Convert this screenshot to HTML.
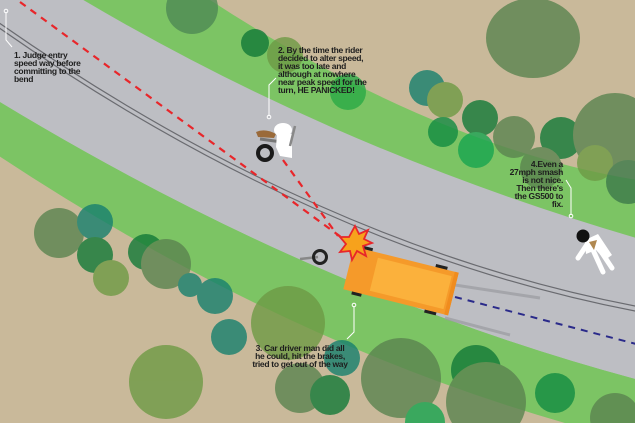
<!DOCTYPE html>
<html><head><meta charset="utf-8"><style>
html,body{margin:0;padding:0;background:#c9b99a;width:635px;height:423px;overflow:hidden;}
svg{display:block}
text{font-family:"Liberation Sans",Arial,sans-serif;font-weight:bold;font-size:8.5px;fill:#1e1e1e;letter-spacing:-0.3px}
</style></head><body>
<svg width="635" height="423" viewBox="0 0 635 423" xmlns="http://www.w3.org/2000/svg">
<rect width="635" height="423" fill="#c9b99a"/>
<!-- green band top -->
<path d="M-10,-40 L180,-20 Q430,150 650,182 L650,500 L-10,500 Z" fill="#7cc464"/>
<!-- road -->
<path d="M-10,-14 L60,-14 Q330,150 650,242 L650,383 Q317,296 -10,96 Z" fill="#bdbec3"/>
<!-- lower green -->
<path d="M-10,96 Q317,296 650,383 L650,445 Q317,368 -10,150 Z" fill="#7cc464"/>
<!-- lower tan -->
<path d="M-10,150 Q317,368 650,445 L650,430 L-10,430 Z" fill="#c9b99a"/>
<!-- trees -->
<g opacity="0.8">
<circle cx="192" cy="8" r="26" fill="#4f8a55"/>
<ellipse cx="533" cy="38" rx="47" ry="40" fill="#5b8450"/>
<circle cx="255" cy="43" r="14" fill="#137a38"/>
<circle cx="285" cy="55" r="18" fill="#6e9a45"/>
<circle cx="348" cy="92" r="18" fill="#2aaa46"/>
<circle cx="427" cy="88" r="18" fill="#17806e"/>
<circle cx="445" cy="100" r="18" fill="#6e9a45"/>
<circle cx="443" cy="132" r="15" fill="#128c42"/>
<circle cx="480" cy="118" r="18" fill="#137a38"/>
<circle cx="476" cy="150" r="18" fill="#17a550"/>
<circle cx="514" cy="137" r="21" fill="#5b8450"/>
<circle cx="561" cy="138" r="21" fill="#137a38"/>
<circle cx="615" cy="135" r="42" fill="#5b8450"/>
<circle cx="595" cy="163" r="18" fill="#6e9a45"/>
<circle cx="628" cy="182" r="22" fill="#3d7a4a"/>
<circle cx="541" cy="168" r="21" fill="#5b8450"/>
<circle cx="59" cy="233" r="25" fill="#5b8450"/>
<circle cx="95" cy="222" r="18" fill="#17806e"/>
<circle cx="95" cy="255" r="18" fill="#137a38"/>
<circle cx="111" cy="278" r="18" fill="#6e9a45"/>
<circle cx="146" cy="252" r="18" fill="#137a38"/>
<circle cx="166" cy="264" r="25" fill="#5b8450"/>
<circle cx="190" cy="285" r="12" fill="#17806e"/>
<circle cx="215" cy="296" r="18" fill="#17806e"/>
<circle cx="229" cy="337" r="18" fill="#17806e"/>
<circle cx="166" cy="382" r="37" fill="#6e9a45"/>
<circle cx="288" cy="323" r="37" fill="#6e9a45"/>
<circle cx="342" cy="358" r="18" fill="#17806e"/>
<circle cx="300" cy="388" r="25" fill="#5b8450"/>
<circle cx="330" cy="395" r="20" fill="#137a38"/>
<circle cx="401" cy="378" r="40" fill="#5b8450"/>
<circle cx="476" cy="370" r="25" fill="#137a38"/>
<circle cx="486" cy="402" r="40" fill="#5b8450"/>
<circle cx="555" cy="393" r="20" fill="#128c42"/>
<circle cx="615" cy="418" r="25" fill="#5b8450"/>
<circle cx="425" cy="422" r="20" fill="#17a550"/>
</g>
<!-- center double line -->
<path d="M-5,20 Q317,246 640,307" fill="none" stroke="#6a6b70" stroke-width="1.2"/>
<path d="M-5,25 Q317,251 640,312" fill="none" stroke="#6a6b70" stroke-width="1.2"/>
<!-- skid marks -->
<path d="M455,285 L540,298" stroke="#9a9ba0" stroke-width="3" opacity="0.7"/>
<path d="M445,318 L510,335" stroke="#9a9ba0" stroke-width="3" opacity="0.7"/>
<!-- dashed paths -->
<path d="M20,2 L345,240" stroke="#e8262a" stroke-width="2.2" stroke-dasharray="7,6" fill="none"/>
<path d="M283,160 L338,236" stroke="#e8262a" stroke-width="2.2" stroke-dasharray="7,6" fill="none"/>
<path d="M455,297 L640,345" stroke="#2a2a8a" stroke-width="2" stroke-dasharray="7,6" fill="none"/>
<!-- car -->
<g transform="translate(401,281) rotate(14)">
<rect x="-45" y="-25" width="10" height="4" fill="#222"/>
<rect x="30" y="-25" width="12" height="4" fill="#222"/>
<rect x="-45" y="21" width="10" height="4" fill="#222"/>
<rect x="30" y="21" width="12" height="4" fill="#222"/>
<rect x="-54" y="-22" width="108" height="44" fill="#f59a2a"/>
<rect x="-28" y="-17" width="76" height="34" fill="#fbb13c"/>
<rect x="50" y="-22" width="4" height="44" fill="#f08c1e"/>
</g>
<!-- starburst -->
<polygon points="355,226 359,234 368,230 364,239 372,243 363,246 366,256 357,251 352,260 350,251 340,252 346,244 340,237 349,237" fill="#f7a21c" stroke="#e8262a" stroke-width="1.8"/>
<!-- detached wheel -->
<line x1="300" y1="259" x2="318" y2="257" stroke="#888" stroke-width="2.5"/>
<circle cx="320" cy="257" r="6.5" fill="none" stroke="#222" stroke-width="3"/>
<!-- bike & rider -->
<path d="M256,132 Q265,128 276,134 L274,138 L258,137 Z" fill="#9a6a3a"/>
<path d="M260,139 L282,142" stroke="#777" stroke-width="3"/>
<ellipse cx="283" cy="130" rx="9" ry="7" fill="#fff"/>
<path d="M277,134 L292,134 L292,158 L280,156 L276,147 Z" fill="#fff"/>
<line x1="295" y1="126" x2="290" y2="146" stroke="#888" stroke-width="2.5"/>
<circle cx="265" cy="153" r="7" fill="none" stroke="#1a1a1a" stroke-width="4"/>
<!-- pedestrian -->
<path d="M585,240 L598,234 L612,255 L605,260 L596,250 L586,254 Z" fill="#fff"/>
<path d="M588,243 L578,258" stroke="#fff" stroke-width="5" stroke-linecap="round"/>
<path d="M600,250 L612,268" stroke="#fff" stroke-width="5" stroke-linecap="round"/>
<path d="M593,250 L603,272" stroke="#fff" stroke-width="5" stroke-linecap="round"/>
<path d="M589,242 L597,240 L594,250 Z" fill="#b08850"/>
<circle cx="583" cy="236" r="6.5" fill="#111"/>
<!-- leaders -->
<g fill="none" stroke="#fff" stroke-width="1">
<path d="M6,12 L6,40 L12,47"/><circle cx="6" cy="11" r="1.8"/>
<path d="M269,116 L269,85 L276,78"/><circle cx="269" cy="117" r="1.8"/>
<path d="M571,215 L571,188 L566,180"/><circle cx="571" cy="216" r="1.8"/>
<path d="M354,306 L354,332 L347,339"/><circle cx="354" cy="305" r="1.8"/>
</g>
<!-- labels -->
<text x="14" y="58">1. Judge entry</text>
<text x="14" y="66">speed way before</text>
<text x="14" y="74">committing to the</text>
<text x="14" y="82">bend</text>
<text x="278" y="53">2. By the time the rider</text>
<text x="278" y="61">decided to alter speed,</text>
<text x="278" y="69">it was too late and</text>
<text x="278" y="77">although at nowhere</text>
<text x="278" y="85">near peak speed for the</text>
<text x="278" y="93">turn, HE PANICKED!</text>
<g text-anchor="end">
<text x="563" y="167">4.Even a</text>
<text x="563" y="175">27mph smash</text>
<text x="563" y="183">is not nice.</text>
<text x="563" y="191">Then there's</text>
<text x="563" y="199">the GS500 to</text>
<text x="563" y="207">fix.</text>
</g>
<g text-anchor="middle">
<text x="300" y="351">3.  Car driver man did all</text>
<text x="300" y="359">he could, hit the brakes,</text>
<text x="300" y="367">tried to get out of the way</text>
</g>
</svg>
</body></html>
